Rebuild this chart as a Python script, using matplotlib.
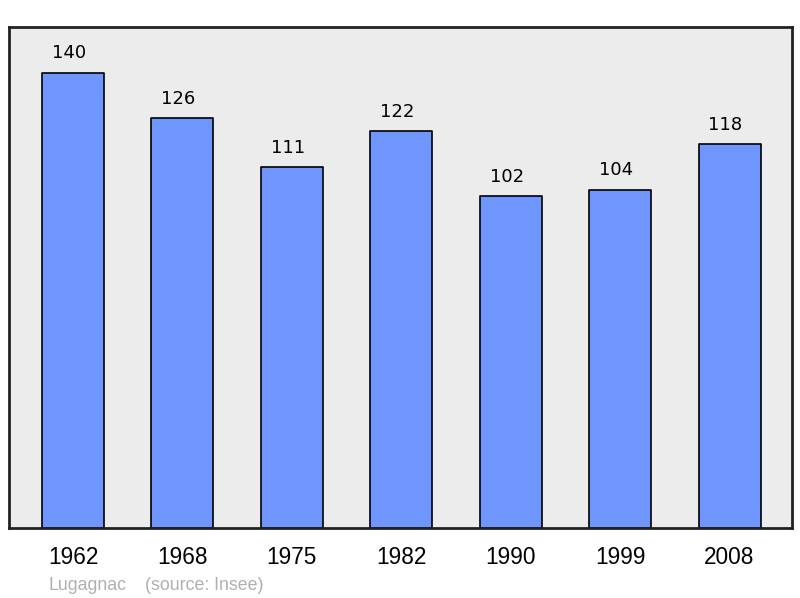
import matplotlib
matplotlib.use('Agg')
import matplotlib.pyplot as plt

years = ['1962', '1968', '1975', '1982', '1990', '1999', '2008']
population = [140, 126, 111, 122, 102, 104, 118]
commune = 'Lugagnac'
source = '(source: Insee)'

plt.rcParams['font.family'] = ['Liberation Sans', 'DejaVu Sans']

fig = plt.figure(figsize=(8, 5.98), dpi=100)
ax = fig.add_axes([9/800, 70/598, 783/800, 501/598])
ax.set_facecolor('#ececec')

x = range(len(years))
bars = ax.bar(x, population, width=0.567, color='#6f96ff',
              edgecolor='black', linewidth=1.2, joinstyle='round')

# value labels above bars (slightly left of centre, like the original)
for xi, v in zip(x, population):
    ax.text(xi - 0.037, v + 5.9, str(v), ha='center', va='center',
            fontsize=13, family='DejaVu Sans')

ax.set_xlim(-0.585, 6.571)
ax.set_ylim(0, 154)
ax.set_yticks([])
ax.set_xticks(list(x))
ax.set_xticklabels(years, fontsize=16.3)
ax.tick_params(axis='x', length=0, pad=13)
for s in ax.spines.values():
    s.set_linewidth(2)
    s.set_color('#222222')

fig.text(48/800, 1 - 585/598, commune, color='#b0b0b0', fontsize=12.8, va='center')
fig.text(145/800, 1 - 585/598, source, color='#b0b0b0', fontsize=12.8, va='center')

fig.savefig('out.png', dpi=100)
